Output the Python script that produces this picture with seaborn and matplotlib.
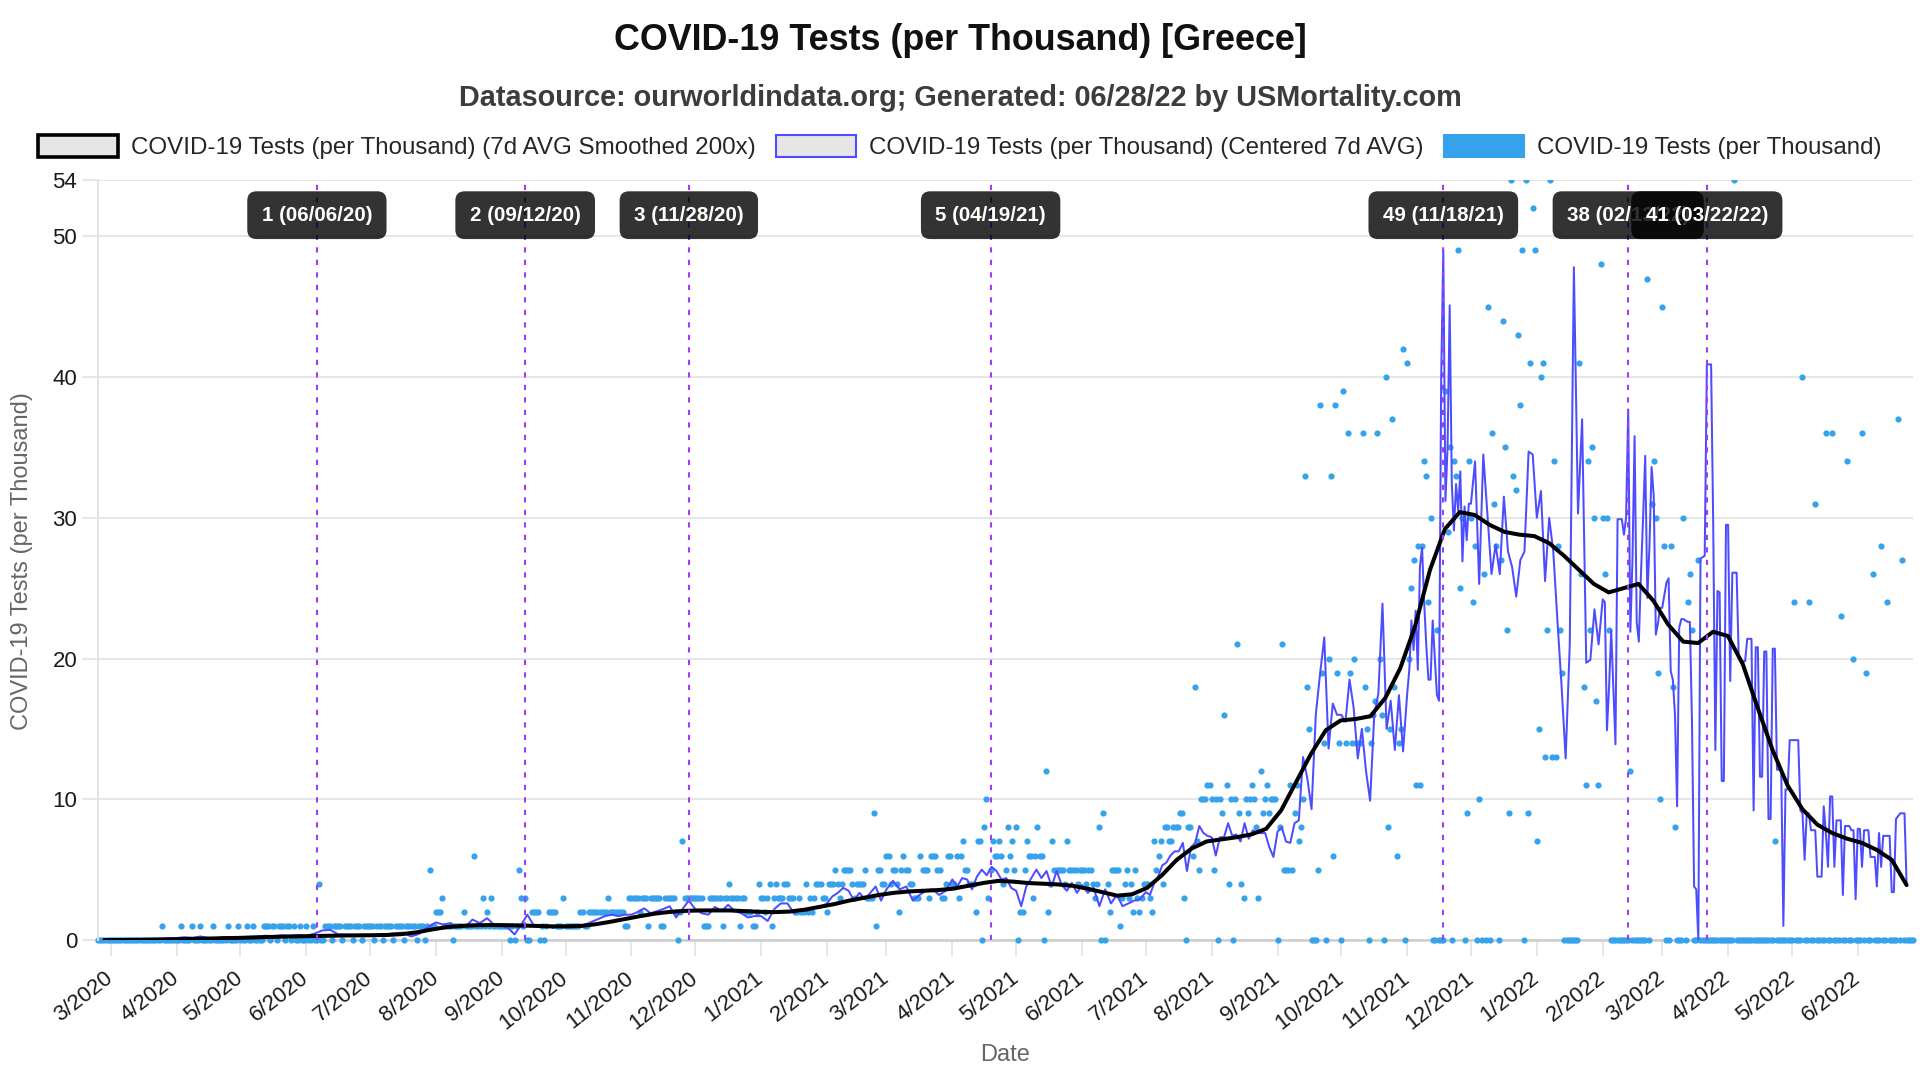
import matplotlib
matplotlib.use("Agg")
import numpy as np
import pandas as pd
import matplotlib.pyplot as plt
import matplotlib.dates as mdates
import seaborn as sns
from matplotlib.patches import Patch
from matplotlib.transforms import Bbox, TransformedBbox

# ---------------- data ----------------
RAW_FIRST, RAW_LAST = "2020-02-24", "2022-06-27"
AVG_FIRST, AVG_LAST = "2020-02-27", "2022-06-24"

# raw daily tests per thousand, one list per month (Feb 2020 .. Jun 2022)
raw_2020 = [
    [0, 0, 0, 0, 0, 0],
    [0, 0, 0, 0, 0, 0, 0, 0, 0, 0, 0, 0, 0, 0, 0, 0, 0, 0, 0, 0, 0, 0, 0, 0, 1, 0, 0, 0, 0, 0, 0],
    [0, 0, 1, 0, 0, 0, 0, 1, 0, 0, 0, 1, 0, 0, 0, 0, 0, 1, 0, 0, 0, 0, 0, 0, 1, 0, 0, 0, 0, 1],
    [0, 0, 0, 1, 0, 0, 1, 0, 0, 0, 0, 1, 1, 1, 0, 1, 1, 0, 1, 1, 1, 0, 1, 1, 0, 1, 0, 0, 1, 0, 0],
    [1, 0, 0, 1, 0, 0, 4, 0, 0, 1, 1, 1, 0, 1, 1, 1, 1, 0, 1, 1, 1, 1, 0, 1, 1, 1, 0, 1, 1, 1],
    [1, 1, 0, 1, 1, 1, 0, 1, 1, 1, 1, 0, 1, 1, 1, 1, 0, 1, 1, 1, 1, 1, 0, 1, 1, 1, 0, 1, 5, 1, 1],
    [2, 2, 2, 3, 1, 1, 1, 1, 0, 1, 1, 1, 1, 2, 1, 1, 1, 1, 6, 1, 1, 1, 3, 1, 2, 1, 3, 1, 1, 1, 1],
    [1, 1, 1, 1, 0, 1, 0, 1, 5, 3, 1, 3, 0, 0, 2, 2, 2, 2, 0, 1, 0, 1, 2, 2, 2, 2, 1, 1, 1, 3],
    [1, 1, 1, 1, 1, 1, 1, 2, 2, 1, 1, 2, 2, 2, 2, 2, 2, 2, 2, 2, 3, 2, 2, 2, 2, 2, 2, 2, 1, 1, 3],
    [3, 3, 3, 3, 2, 3, 3, 3, 1, 3, 3, 3, 3, 3, 1, 1, 3, 3, 3, 3, 3, 2, 0, 2, 7, 3, 3, 3, 3, 3],
    [3, 3, 3, 3, 1, 1, 1, 3, 3, 3, 3, 3, 3, 1, 3, 3, 4, 3, 3, 3, 3, 1, 3, 3, 2, 2, 2, 1, 1, 2, 4],
]
raw_2021 = [
    [3, 3, 2, 3, 4, 1, 3, 4, 3, 3, 3, 4, 4, 3, 3, 3, 2, 2, 3, 2, 2, 4, 2, 3, 2, 3, 4, 4, 4, 3, 3],
    [2, 4, 4, 4, 5, 4, 3, 4, 5, 5, 5, 5, 4, 3, 4, 4, 4, 4, 5, 3, 3, 3, 9, 1, 5, 5, 4, 4],
    [6, 6, 4, 5, 5, 4, 2, 5, 6, 5, 5, 4, 4, 3, 3, 3, 6, 5, 5, 5, 3, 6, 6, 6, 5, 5, 3, 3, 4, 6, 6],
    [4, 4, 6, 3, 6, 7, 5, 5, 4, 4, 4, 2, 7, 7, 0, 8, 10, 3, 5, 7, 6, 6, 7, 6, 4, 5, 8, 6, 7, 5],
    [8, 0, 2, 2, 5, 7, 6, 6, 3, 6, 8, 6, 6, 0, 12, 2, 4, 7, 5, 5, 5, 5, 5, 4, 7, 5, 5, 5, 5, 4, 5],
    [5, 5, 4, 5, 5, 4, 3, 4, 8, 0, 9, 0, 4, 2, 5, 5, 5, 5, 1, 3, 4, 5, 3, 4, 2, 5, 3, 2, 3, 4],
    [4, 4, 3, 2, 7, 5, 6, 7, 4, 8, 8, 7, 7, 8, 8, 8, 9, 9, 3, 0, 8, 8, 6, 18, 7, 5, 10, 10, 10, 11, 11],
    [10, 5, 10, 0, 10, 9, 16, 11, 4, 10, 0, 10, 21, 9, 4, 3, 10, 9, 10, 11, 10, 8, 3, 12, 9, 10, 11, 9, 10, 10, 10],
    [0, 8, 21, 5, 5, 5, 11, 5, 9, 11, 7, 8, 10, 33, 18, 15, 0, 0, 0, 5, 38, 19, 14, 0, 20, 33, 6, 38, 19, 14],
    [0, 39, 14, 36, 19, 14, 20, 14, 14, 14, 36, 18, 15, 0, 14, 16, 17, 36, 20, 16, 0, 40, 8, 15, 37, 18, 6, 14, 15, 42, 0],
    [41, 20, 25, 27, 11, 28, 11, 28, 34, 33, 24, 30, 0, 0, 22, 0, 0, 0, 39, 29, 35, 0, 34, 33, 49, 25, 30, 0, 9, 34],
    [30, 24, 28, 0, 10, 0, 26, 0, 45, 0, 36, 31, 28, 0, 27, 44, 35, 22, 9, 54, 33, 32, 43, 38, 49, 0, 54, 9, 41, 52, 49],
]
raw_2022 = [
    [7, 15, 40, 41, 13, 22, 54, 13, 34, 13, 28, 22, 19, 0, 0, 0, 0, 0, 0, 0, 41, 26, 18, 11, 34, 22, 35, 30, 17, 11, 48],
    [30, 26, 30, 22, 0, 0, 0, 0, 0, 0, 0, 0, 0, 12, 0, 0, 0, 0, 0, 0, 0, 47, 0, 31, 34, 30, 19, 10],
    [45, 28, 0, 0, 28, 18, 8, 0, 0, 0, 30, 0, 24, 26, 22, 0, 0, 27, 0, 0, 0, 0, 0, 0, 0, 0, 0, 0, 0, 0, 0],
    [0, 0, 0, 54, 0, 0, 0, 0, 0, 0, 0, 0, 0, 0, 0, 0, 0, 0, 0, 0, 0, 0, 7, 0, 0, 0, 0, 0, 0, 0],
    [0, 24, 0, 0, 0, 40, 0, 0, 24, 0, 0, 31, 0, 0, 0, 0, 36, 0, 0, 36, 0, 0, 0, 23, 0, 0, 34, 0, 0, 20, 0],
    [0, 0, 36, 0, 19, 0, 0, 26, 0, 0, 0, 28, 0, 0, 24, 0, 0, 0, 0, 37, 0, 27, 0, 0, 0, 0, 0],
]

# centered 7-day average, samples spread over each month (Feb 2020 .. Jun 2022)
avg_2020 = [
    [0.0, 0.0],
    [0.0, 0.0, 0.01, 0.02, 0.03, 0.05, 0.08, 0.12],
    [0.14, 0.2, 0.15, 0.25, 0.15, 0.14, 0.2, 0.15],
    [0.2, 0.22, 0.25, 0.3, 0.28, 0.33, 0.3, 0.35],
    [0.3, 0.45, 0.68, 0.72, 0.4, 0.38, 0.36, 0.36],
    [0.36, 0.34, 0.4, 0.48, 0.52, 0.25, 0.45, 0.9],
    [1.25, 1.1, 1.2, 0.9, 0.95, 1.45, 1.2, 1.55, 1.05],
    [1.0, 0.85, 0.4, 1.05, 1.8, 1.05, 0.95, 1.05, 0.85, 1.0],
    [0.95, 0.9, 1.0, 1.1, 1.3, 1.5, 1.7, 1.8, 1.7, 1.8],
    [1.8, 2.0, 2.25, 1.9, 2.05, 2.2, 2.4, 1.6, 2.2, 2.8],
    [2.2, 1.9, 1.8, 2.35, 2.05, 2.5, 2.05, 1.9, 1.6, 1.7],
]
avg_2021 = [
    [1.7, 1.35, 2.2, 2.6, 2.6, 1.9, 2.2, 2.05, 2.3, 2.3],
    [2.6, 3.1, 3.35, 3.7, 3.5, 2.8, 3.35, 2.9, 3.35, 3.8, 2.8],
    [3.6, 4.2, 3.6, 3.8, 2.8, 3.2, 3.5, 3.6, 3.2, 3.5],
    [4.3, 3.8, 4.4, 4.3, 3.6, 4.5, 5.0, 4.6, 5.2, 4.9, 4.3, 4.4, 3.7],
    [3.5, 2.4, 3.8, 4.4, 5.0, 4.4, 4.9, 3.8, 4.9, 3.9, 3.5, 4.05, 3.35],
    [3.9, 3.35, 3.7, 2.4, 3.6, 2.6, 3.2, 2.4, 2.6, 2.8, 2.9],
    [3.4, 3.2, 4.0, 4.5, 5.3, 5.5, 6.0, 6.3, 6.3, 6.9, 4.9, 6.6, 6.9, 8.1, 7.6, 7.4],
    [7.3, 6.0, 7.3, 7.3, 8.3, 7.4, 7.5, 7.0, 8.3, 7.2, 7.8, 7.6, 7.6, 7.6, 6.6, 5.9],
    [7.7, 8.0, 7.0, 6.9, 8.3, 8.5, 13.0, 11.5, 9.3, 16.0, 18.9, 21.5, 13.6, 16.8, 16.0],
    [16.0, 15.5, 18.5, 16.5, 12.9, 15.0, 12.0, 9.9, 16.0, 17.5, 23.9, 15.0, 17.0, 13.5, 17.4, 13.4],
    [17.5, 19.2, 22.7, 20.6, 23.4, 19.2, 26.5, 27.9, 24.0, 20.9, 18.5, 18.5, 22.7, 20.0, 17.4,
     17.0, 40.0, 49.0, 31.2, 35.0, 45.1, 32.4, 29.1, 32.4, 30.5, 33.3, 26.9, 30.8, 28.4, 31.0],
    [31.0, 34.0, 25.3, 34.5, 30.3, 26.0, 28.1, 26.0, 31.5, 27.6, 26.5, 24.4, 27.0, 27.6, 34.7, 34.5],
]
avg_2022 = [
    [30.0, 31.9, 25.5, 30.0, 27.6, 22.7, 18.1, 12.9, 21.0, 47.8, 30.3, 37.0, 19.7, 19.9, 23.5, 21.0],
    [24.2, 24.0, 14.9, 18.0, 22.0, 18.0, 13.9, 29.9, 29.9, 29.9, 28.8, 30.0, 37.7, 21.9, 27.0, 35.8,
     22.6, 21.2, 26.0, 30.0, 34.4, 24.3, 28.0, 33.6, 31.6, 21.7, 22.5, 23.6],
    [23.6, 24.5, 25.4, 25.7, 19.1, 18.5, 16.0, 9.5, 22.2, 22.8, 22.8, 22.7, 22.6, 22.6, 15.6, 3.8,
     3.6, 0.0, 27.1, 27.2, 27.3, 40.9, 40.9, 40.9, 29.5, 13.5, 24.8, 24.7, 11.3, 11.3, 29.5],
    [29.5, 18.4, 26.1, 26.1, 26.1, 20.1, 19.9, 19.8, 19.8, 21.4, 21.4, 21.4, 9.2, 20.8, 20.8,
     11.6, 11.6, 20.5, 20.5, 8.6, 8.6, 20.7, 20.7, 12.1, 12.1, 12.1, 1.0, 10.7, 10.7, 14.2],
    [14.2, 14.2, 14.2, 14.2, 9.2, 9.0, 5.7, 9.0, 9.0, 7.8, 7.8, 7.8, 4.5, 4.5, 4.5, 9.5,
     7.6, 5.2, 10.2, 10.2, 5.2, 8.5, 8.5, 8.5, 3.2, 8.1, 8.1, 8.1, 7.8, 7.8, 2.9],
    [7.9, 7.9, 5.2, 7.8, 7.8, 7.8, 5.9, 5.9, 5.9, 3.8, 7.6, 5.2, 7.4, 7.4, 7.4, 7.4,
     3.4, 3.4, 8.6, 8.8, 9.0, 9.0, 9.0, 3.9],
]

# 7d AVG smoothed (weekly samples from AVG_FIRST to AVG_LAST)
smooth_values = [
    0.0, 0.0, 0.01, 0.02, 0.04, 0.06, 0.08, 0.10, 0.13, 0.15,
    0.18, 0.21, 0.24, 0.26, 0.28, 0.30, 0.32, 0.33, 0.34, 0.36,
    0.42, 0.55, 0.75, 0.92, 1.0, 1.05, 1.06, 1.05, 1.03, 1.0,
    0.97, 0.97, 1.0, 1.12, 1.3, 1.5, 1.7, 1.88, 2.0, 2.07,
    2.1, 2.1, 2.1, 2.05, 2.0, 1.98, 2.02, 2.15, 2.35, 2.55,
    2.8, 3.0, 3.2, 3.35, 3.45, 3.5, 3.55, 3.65, 3.85, 4.05,
    4.2, 4.15, 4.05, 4.0, 3.95, 3.85, 3.65, 3.4, 3.15, 3.25,
    3.7, 4.6, 5.7, 6.5, 7.0, 7.15, 7.3, 7.5, 7.9, 9.2,
    11.2, 13.2, 14.9, 15.6, 15.7, 15.9, 17.2, 19.3, 22.3, 26.3,
    29.2, 30.4, 30.2, 29.5, 29.0, 28.8, 28.7, 28.2, 27.3, 26.3,
    25.3, 24.7, 25.0, 25.3, 24.1, 22.4, 21.2, 21.1, 21.9, 21.6,
    19.6, 16.5, 13.5, 11.0, 9.3, 8.2, 7.6, 7.2, 6.9, 6.4,
    5.7, 3.9,
]

# event annotations
event_dates = ["2020-06-06", "2020-09-12", "2020-11-28", "2021-04-19",
               "2021-11-18", "2022-02-13", "2022-03-22"]
event_values = [1, 2, 3, 5, 49, 38, 41]

title = "COVID-19 Tests (per Thousand) [Greece]"
subtitle = "Datasource: ourworldindata.org; Generated: 06/28/22 by USMortality.com"
legend_labels = ["COVID-19 Tests (per Thousand) (7d AVG Smoothed 200x)",
                 "COVID-19 Tests (per Thousand) (Centered 7d AVG)",
                 "COVID-19 Tests (per Thousand)"]
y_ticks = [0, 10, 20, 30, 40, 50, 54]


def spread_months(first_day, last_day, month_lists):
    first = pd.Timestamp(first_day)
    last = pd.Timestamp(last_day)
    periods = pd.period_range(first, last, freq="M")
    dates, values = [], []
    for per, vals in zip(periods, month_lists):
        start = max(per.start_time, first)
        stop = min(per.end_time.normalize(), last) + pd.Timedelta(days=1)
        span = (stop - start).days
        for i, v in enumerate(vals):
            dates.append(start + pd.Timedelta(days=i * span / len(vals)))
            values.append(v)
    return pd.DataFrame({"date": dates, "value": values})


raw_df = spread_months(RAW_FIRST, RAW_LAST, raw_2020 + raw_2021 + raw_2022)
avg_df = spread_months(AVG_FIRST, AVG_LAST, avg_2020 + avg_2021 + avg_2022)
smooth_df = pd.DataFrame({
    "date": pd.date_range(AVG_FIRST, AVG_LAST, periods=len(smooth_values)),
    "value": smooth_values,
})

# ---------------- style ----------------
sns.set_theme(style="white")
plt.rcParams["font.family"] = ["Liberation Sans", "DejaVu Sans"]

RAW_C = "#36a2eb"
AVG_C = "#4d4dff"
GRID_C = "#e6e6e6"
EVENT_C = "#a03cf5"

fig = plt.figure(figsize=(19.2, 10.8), dpi=100)
fig.patch.set_facecolor("white")
ax = fig.add_axes([98 / 1920, 140 / 1080, (1913 - 98) / 1920, 760 / 1080])
ax.set_facecolor("white")

sns.scatterplot(data=raw_df, x="date", y="value", ax=ax, s=20, color=RAW_C,
                linewidth=0, zorder=2)
dots = ax.collections[-1]
dots.set_clip_path(None)
dots.set_clip_box(TransformedBbox(Bbox([[-0.01, -0.03], [1.01, 1.0]]), ax.transAxes))

sns.lineplot(data=avg_df, x="date", y="value", ax=ax, color=AVG_C, linewidth=1.45,
             estimator=None, zorder=3)
sns.lineplot(data=smooth_df, x="date", y="value", ax=ax, color="black", linewidth=2.9,
             estimator=None, zorder=4)

ax.set_xlim(pd.Timestamp(RAW_FIRST), pd.Timestamp(RAW_LAST))
ax.set_ylim(0, 54)
ax.set_yticks(y_ticks)
ax.yaxis.grid(True, color=GRID_C, linewidth=1.4)
ax.xaxis.grid(False)
ax.set_axisbelow(True)

tick_dates = pd.date_range("2020-03-01", "2022-06-01", freq="MS")
ax.set_xticks(list(tick_dates.to_pydatetime()))
ax.set_xticklabels([f"{d.month}/{d.year}" for d in tick_dates], rotation=38,
                   ha="right", va="center", rotation_mode="anchor")

for s in ["top", "right"]:
    ax.spines[s].set_visible(False)
ax.spines["left"].set_color("#e3e3e3")
ax.spines["left"].set_linewidth(1.4)
ax.spines["bottom"].set_color("#cdcdcd")
ax.spines["bottom"].set_linewidth(1.8)
ax.spines["bottom"].set_zorder(1.5)

ax.tick_params(axis="x", length=11.5, width=1.4, color=GRID_C, labelsize=16,
               labelcolor="#1a1a1a", pad=14.5, bottom=True)
ax.tick_params(axis="y", length=11.5, width=1.4, color=GRID_C, labelsize=16,
               labelcolor="#1a1a1a", pad=3.5, left=True)
ax.set_xlabel("")
ax.set_ylabel("")

# event lines and labels
for d, v in zip(event_dates, event_values):
    ts = pd.Timestamp(d)
    ax.axvline(ts.to_pydatetime(), color=EVENT_C, linewidth=1.5,
               linestyle=(0, (2.5, 3.5)), zorder=5)
for d, v in zip(event_dates, event_values):
    ts = pd.Timestamp(d)
    ax.text(mdates.date2num(ts.to_pydatetime()), 51.5, f"{v} ({ts:%m/%d/%y})",
            ha="center", va="center", color="white", fontsize=14.8, fontweight="bold",
            bbox=dict(boxstyle="round,pad=0.7,rounding_size=0.45",
                      fc=(0, 0, 0, 0.8), ec="none"), zorder=6)

# titles and axis labels
fig.text(0.5, 1 - 40.5 / 1080, title, ha="center", va="center", fontsize=25.8,
         fontweight="bold", color="#111111")
fig.text(0.5, 1 - 98.5 / 1080, subtitle, ha="center", va="center", fontsize=20.8,
         fontweight="bold", color="#3c3c3c")
fig.text(22 / 1920, 1 - 561 / 1080, "COVID-19 Tests (per Thousand)", rotation=90,
         ha="center", va="center", fontsize=17, color="#666666")
fig.text(1005 / 1920, 1 - 1055 / 1080, "Date", ha="center", va="center",
         fontsize=17, color="#666666")

handles = [
    Patch(facecolor=GRID_C, edgecolor="black", linewidth=2.6),
    Patch(facecolor=GRID_C, edgecolor=AVG_C, linewidth=1.5),
    Patch(facecolor=RAW_C, edgecolor=RAW_C, linewidth=1.5),
]
fig.legend(handles, legend_labels, loc="center", bbox_to_anchor=(0.5, 1 - 147 / 1080),
           ncol=3, frameon=False, fontsize=17.4, handlelength=3.3, handleheight=1.0,
           handletextpad=0.55, columnspacing=0.85, borderaxespad=0, borderpad=0)

fig.savefig("out.png", dpi=100, facecolor="white")
